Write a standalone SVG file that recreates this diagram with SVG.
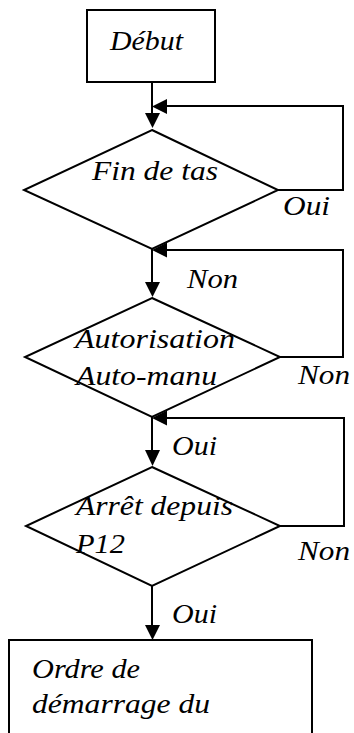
<svg xmlns="http://www.w3.org/2000/svg" width="354" height="733" viewBox="0 0 354 733">
  <style>
    .box { fill: #fff; stroke: #000; stroke-width: 2; }
    .wire { fill: none; stroke: #000; stroke-width: 2; }
    .head { fill: #000; }
  </style>
  <rect width="354" height="733" fill="#fff"/>

  <g id="connectors">
    <!-- Début -> Fin de tas -->
    <path class="wire" d="M152 82 V115"/>
    <polygon class="head" points="145,113 160,113 152.5,128"/>
    <!-- Fin de tas: Oui loops back -->
    <path class="wire" d="M278 190 H343 V106 H165"/>
    <polygon class="head" points="167,99 167,114 152,106.5"/>
    <!-- Fin de tas: Non -> Autorisation -->
    <path class="wire" d="M152 249 V284"/>
    <polygon class="head" points="145,282 160,282 152.5,297"/>
    <!-- Autorisation: Non loops back -->
    <path class="wire" d="M280 357 H343 V250 H165"/>
    <polygon class="head" points="167,242.5 167,257.5 152,250"/>
    <!-- Autorisation: Oui -> Arrêt -->
    <path class="wire" d="M152 417 V452"/>
    <polygon class="head" points="145,450 160,450 152.5,466"/>
    <!-- Arrêt: Non loops back -->
    <path class="wire" d="M280 526 H344 V418 H165"/>
    <polygon class="head" points="167,410.5 167,425.5 152,418"/>
    <!-- Arrêt: Oui -> Ordre -->
    <path class="wire" d="M152 586 V627"/>
    <polygon class="head" points="145,625 160,625 152.5,640"/>
  </g>

  <g font-family="Liberation Serif, serif" font-style="italic" font-size="28" fill="#000">
    <g id="debut">
      <rect class="box" x="87" y="10" width="128" height="72"/>
      <text x="110" y="50" textLength="73" lengthAdjust="spacingAndGlyphs">Début</text>
    </g>

    <g id="fin-de-tas">
      <polygon class="box" points="152,130 278,190 152,249 24,190"/>
      <text x="92" y="180" textLength="126" lengthAdjust="spacingAndGlyphs">Fin de tas</text>
    </g>

    <g id="autorisation">
      <polygon class="box" points="152,298 280,357 152,417 25,357"/>
      <text x="75" y="348" textLength="160" lengthAdjust="spacingAndGlyphs">Autorisation</text>
      <text x="76" y="385" textLength="141" lengthAdjust="spacingAndGlyphs">Auto-manu</text>
    </g>

    <g id="arret">
      <polygon class="box" points="152,467 280,526 152,586 26,526"/>
      <text x="76" y="515" textLength="157" lengthAdjust="spacingAndGlyphs">Arrêt depuis</text>
      <text x="76" y="553" textLength="49" lengthAdjust="spacingAndGlyphs">P12</text>
    </g>

    <g id="ordre">
      <rect class="box" x="9" y="640" width="303" height="110"/>
      <text x="32" y="678" textLength="108" lengthAdjust="spacingAndGlyphs">Ordre de</text>
      <text x="32" y="713" textLength="178" lengthAdjust="spacingAndGlyphs">démarrage du</text>
    </g>

    <g id="labels">
      <text x="283" y="215" textLength="47" lengthAdjust="spacingAndGlyphs">Oui</text>
      <text x="187" y="288" textLength="51" lengthAdjust="spacingAndGlyphs">Non</text>
      <text x="298" y="384" textLength="52" lengthAdjust="spacingAndGlyphs">Non</text>
      <text x="172" y="455" textLength="45" lengthAdjust="spacingAndGlyphs">Oui</text>
      <text x="298" y="560" textLength="52" lengthAdjust="spacingAndGlyphs">Non</text>
      <text x="172" y="623" textLength="45" lengthAdjust="spacingAndGlyphs">Oui</text>
    </g>
  </g>
</svg>
